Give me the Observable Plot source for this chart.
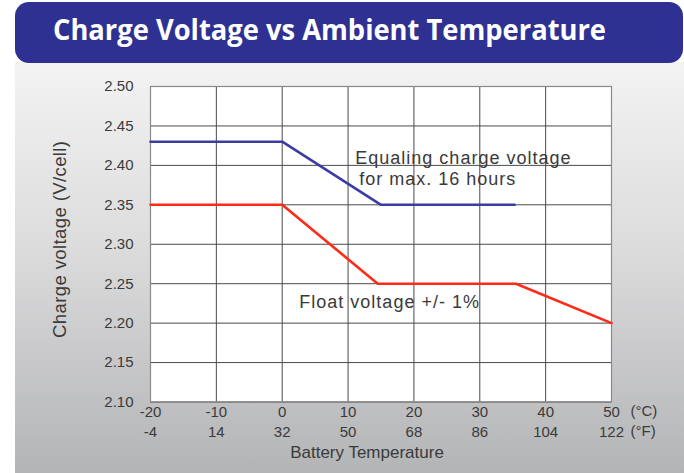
<!DOCTYPE html>
<html>
<head>
<meta charset="utf-8">
<script src="https://cdn.jsdelivr.net/npm/d3@7"></script>
<script src="https://cdn.jsdelivr.net/npm/@observablehq/plot@0.6"></script>
<style>
  html, body { margin: 0; padding: 0; background: #ffffff; }
  #wrap { position: relative; width: 684px; height: 473px; overflow: hidden; background: #ffffff; }
  #panel { position: absolute; left: 15px; top: 62px; width: 669px; height: 411px;
           background: linear-gradient(to bottom, #f3f3f3 0%, #dcdcdd 45%, #b3b4b6 100%); }
  #banner { position: absolute; left: 15px; top: 2px; width: 668px; height: 61px;
            background: #2e3192; border-radius: 14px; }
  #title { position: absolute; left: 53px; top: 9px; white-space: nowrap; color: #ffffff;
           font-family: "Open Sans", sans-serif; font-weight: 700; font-size: 28px; line-height: 40px;
           transform-origin: 0 0; }
  #chart { position: absolute; left: 0; top: 62px; }
</style>
</head>
<body>
<div id="wrap">
  <div id="panel"></div>
  <div id="banner"></div>
  <div id="title">Charge Voltage vs Ambient Temperature</div>
  <div id="chart"></div>
</div>
<script>
// Temperature ticks (°C) and matching °F labels
const celsiusTicks = [-20, -10, 0, 10, 20, 30, 40, 50];
const fahrenheitLabels = ["-4", "14", "32", "50", "68", "86", "104", "122"];
const voltTicks = [2.10, 2.15, 2.20, 2.25, 2.30, 2.35, 2.40, 2.45, 2.50];

// Equalizing charge voltage series
const equalTemp = [-20, 0, 15, 35.3];
const equalVolt = [2.43, 2.43, 2.35, 2.35];

// Float voltage series
const floatTemp = [-20, 0, 14.5, 35.5, 50];
const floatVolt = [2.35, 2.35, 2.25, 2.25, 2.20];

// Annotation texts (anchored in data units)
const annotations = [
  {text: "Equaling charge voltage", t: 11.1, v: 2.409},
  {text: "for max. 16 hours", t: 11.7, v: 2.383},
  {text: "Float voltage +/- 1%", t: 2.6, v: 2.226}
];
const yLabel = "Charge voltage (V/cell)";
const xLabel = "Battery Temperature";
const unitC = "(°C)";
const unitF = "(°F)";

const equalData = equalTemp.map((t, i) => ({t, v: equalVolt[i]}));
const floatData = floatTemp.map((t, i) => ({t, v: floatVolt[i]}));

const textColor = "#3a3a3a";
const tickFont = "Liberation Sans, Arial, sans-serif";

const plot = Plot.plot({
  width: 684,
  height: 411,
  marginTop: 24,
  marginBottom: 71.5,
  marginLeft: 150,
  marginRight: 73,
  style: {background: "transparent", fontFamily: "Liberation Sans, Arial, sans-serif"},
  x: {domain: [-20, 50]},
  y: {domain: [2.10, 2.50]},
  marks: [
    Plot.frame({fill: "white", stroke: null}),
    Plot.gridX(celsiusTicks, {stroke: "#4a4a4a", strokeOpacity: 1, strokeWidth: 1}),
    Plot.gridY(voltTicks, {stroke: "#4a4a4a", strokeOpacity: 1, strokeWidth: 1}),
    Plot.frame({stroke: "#8a8a8a", strokeWidth: 1.2}),
    Plot.axisY(voltTicks, {tickSize: 0, tickPadding: 17, tickFormat: d3.format(".2f"),
      fontSize: 15, fill: textColor, label: null}),
    Plot.axisX(celsiusTicks, {tickSize: 0, tickPadding: 4, tickFormat: d => String(d),
      fontSize: 15, fill: textColor, label: null, fontFamily: tickFont}),
    Plot.axisX(celsiusTicks, {tickSize: 0, tickPadding: 24,
      tickFormat: d => fahrenheitLabels[celsiusTicks.indexOf(d)],
      fontSize: 15, fill: textColor, label: null, fontFamily: tickFont}),
    Plot.line(floatData, {x: "t", y: "v", stroke: "#ff2a17", strokeWidth: 2.6}),
    Plot.line(equalData, {x: "t", y: "v", stroke: "#3b3ba3", strokeWidth: 2.6}),
    Plot.text(annotations, {x: "t", y: "v", text: "text", textAnchor: "start",
      fontSize: 18, fill: textColor}),
    Plot.text([yLabel], {frameAnchor: "left", textAnchor: "middle", lineAnchor: "middle",
      rotate: -90, dx: -90, dy: -5, fontSize: 18.5, fill: textColor}),
    Plot.text([xLabel], {frameAnchor: "bottom", textAnchor: "middle", lineAnchor: "middle",
      dx: -14, dy: 50.5, fontSize: 17, fill: textColor}),
    Plot.text([unitC], {frameAnchor: "bottom-right", textAnchor: "start", lineAnchor: "middle",
      dx: 19, dy: 9, fontSize: 15, fill: textColor, fontFamily: tickFont}),
    Plot.text([unitF], {frameAnchor: "bottom-right", textAnchor: "start", lineAnchor: "middle",
      dx: 19, dy: 29, fontSize: 15, fill: textColor, fontFamily: tickFont})
  ]
});
document.getElementById("chart").appendChild(plot);

// letter spacing for annotation texts
d3.select(plot).selectAll("text").each(function() {
  const s = this.textContent;
  if (annotations.some(a => a.text === s)) this.setAttribute("letter-spacing", "1px");
  if (s === yLabel) this.setAttribute("letter-spacing", "0.4px");
});

// fit title width
const title = document.getElementById("title");
const w = title.getBoundingClientRect().width;
title.style.transform = `scaleX(${553 / w})`;
</script>
</body>
</html>
